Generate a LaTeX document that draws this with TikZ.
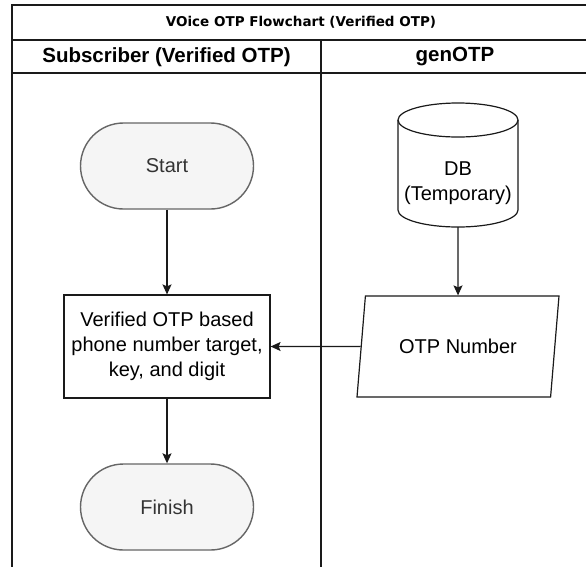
\documentclass[tikz,border=0pt]{standalone}
\usepackage{fontspec}
\setmainfont{Liberation Sans}
\newfontfamily\titlefont{DejaVu Sans}
\usetikzlibrary{shapes.geometric,arrows.meta}

\definecolor{termfill}{HTML}{F5F5F5}
\definecolor{termline}{HTML}{666666}
\definecolor{termtext}{HTML}{333333}
\definecolor{ink}{HTML}{1A1A1A}

\begin{document}
\begin{tikzpicture}[x=1pt,y=-1pt,
  lane/.style={draw=ink,line width=1.4pt},
  bodyfont/.style={font=\fontsize{20}{25}\selectfont},
  headfont/.style={font=\bfseries\fontsize{20.5}{24}\selectfont},
  terminal/.style={bodyfont,draw=termline,fill=termfill,line width=1.4pt,
    text=termtext,minimum width=173pt,minimum height=86pt,rounded corners=43pt},
  process/.style={bodyfont,draw=ink,fill=white,line width=1.2pt,
    minimum width=206pt,minimum height=103pt,align=center,inner sep=0pt},
  iodata/.style={bodyfont,trapezium,trapezium left angle=70,
    trapezium right angle=110,trapezium stretches=true,draw=ink,fill=white,
    line width=1.2pt,minimum width=202pt,minimum height=101pt,inner sep=0pt},
  cylbox/.style={minimum width=120pt,minimum height=124pt,inner sep=0pt},
  flow/.style={draw=ink,line width=1.2pt,
    -{Stealth[length=10pt,width=9pt,inset=2pt]}}
]
\clip (0,0) rectangle (586,566);
\fill[white] (0,0) rectangle (586,566);

% pool frame: title row, lane header row, lane divider
\draw[lane] (590,5) -- (12,5) -- (12,570);
\draw[lane] (12,40) -- (590,40);
\draw[lane] (12,73) -- (590,73);
\draw[lane] (321,40) -- (321,570);

\node[font=\titlefont\bfseries\fontsize{13.5}{15}\selectfont] (title)
  at (301,22) {VOice OTP Flowchart (Verified OTP)};
\node[headfont] (laneA) at (166.5,57) {Subscriber (Verified OTP)};
\node[headfont] (laneB) at (455,57) {genOTP};

% subscriber lane
\node[terminal] (start) at (167,166) {Start};
\node[process] (verify) at (167,346.5)
  {Verified OTP based\\phone number target,\\key, and digit};
\node[terminal] (finish) at (167,507) {Finish};

% genOTP lane: database cylinder
\node[cylbox] (db) at (458,165) {};
\filldraw[draw=ink,fill=white,line width=1.2pt]
  (398,120) -- (398,210) arc[start angle=180,end angle=0,x radius=60,y radius=17]
  -- (518,120);
\draw[ink,line width=1.2pt] (458,120) ellipse[x radius=60,y radius=17];
\node[bodyfont,align=center] (dblabel) at ([yshift=-18pt]db.center)
  {DB\\(Temporary)};

\node[iodata] (otp) at (458,346.5) {OTP Number};

% connectors
\draw[flow] (start.south) -- (verify.north);
\draw[flow] (verify.south) -- (finish.north);
\draw[flow] (db.south) -- (otp.north);
\draw[flow] (otp.west) -- (verify.east);
\end{tikzpicture}
\end{document}
